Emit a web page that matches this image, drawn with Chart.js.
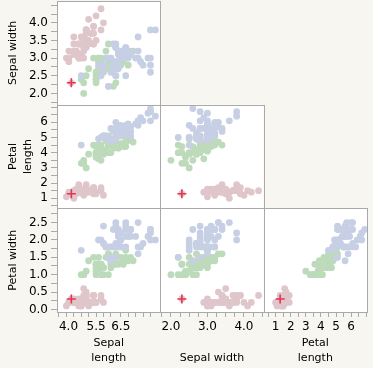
<!DOCTYPE html>
<html>
<head>
<meta charset="utf-8">
<script src="https://cdn.jsdelivr.net/npm/chart.js@4.4.1/dist/chart.umd.min.js"></script>
<style>
  html, body { margin: 0; padding: 0; background: #f7f6f1; }
  #matrix { display: block; }
</style>
</head>
<body>
<canvas id="matrix" width="373" height="368"></canvas>
<script>
// Iris measurements, one array per species and variable
const setosaSepalLength = [5.1,4.9,4.7,4.6,5.0,5.4,4.6,5.0,4.4,4.9,5.4,4.8,4.8,4.3,5.8,5.7,5.4,5.1,5.7,5.1,5.4,5.1,4.6,5.1,4.8,5.0,5.0,5.2,5.2,4.7,4.8,5.4,5.2,5.5,4.9,5.0,5.5,4.9,4.4,5.1,5.0,4.5,4.4,5.0,5.1,4.8,5.1,4.6,5.3,5.0];
const setosaSepalWidth = [3.5,3.0,3.2,3.1,3.6,3.9,3.4,3.4,2.9,3.1,3.7,3.4,3.0,3.0,4.0,4.4,3.9,3.5,3.8,3.8,3.4,3.7,3.6,3.3,3.4,3.0,3.4,3.5,3.4,3.2,3.1,3.4,4.1,4.2,3.1,3.2,3.5,3.6,3.0,3.4,3.5,2.3,3.2,3.5,3.8,3.0,3.8,3.2,3.7,3.3];
const setosaPetalLength = [1.4,1.4,1.3,1.5,1.4,1.7,1.4,1.5,1.4,1.5,1.5,1.6,1.4,1.1,1.2,1.5,1.3,1.4,1.7,1.5,1.7,1.5,1.0,1.7,1.9,1.6,1.6,1.5,1.4,1.6,1.6,1.5,1.5,1.4,1.5,1.2,1.3,1.4,1.3,1.5,1.3,1.3,1.3,1.6,1.9,1.4,1.6,1.4,1.5,1.4];
const setosaPetalWidth = [0.2,0.2,0.2,0.2,0.2,0.4,0.3,0.2,0.2,0.1,0.2,0.2,0.1,0.1,0.2,0.4,0.4,0.3,0.3,0.3,0.2,0.4,0.2,0.5,0.2,0.2,0.4,0.2,0.2,0.2,0.2,0.4,0.1,0.2,0.2,0.2,0.2,0.1,0.2,0.2,0.3,0.3,0.2,0.6,0.4,0.3,0.2,0.2,0.2,0.2];

const versicolorSepalLength = [7.0,6.4,6.9,5.5,6.5,5.7,6.3,4.9,6.6,5.2,5.0,5.9,6.0,6.1,5.6,6.7,5.6,5.8,6.2,5.6,5.9,6.1,6.3,6.1,6.4,6.6,6.8,6.7,6.0,5.7,5.5,5.5,5.8,6.0,5.4,6.0,6.7,6.3,5.6,5.5,5.5,6.1,5.8,5.0,5.6,5.7,5.7,6.2,5.1,5.7];
const versicolorSepalWidth = [3.2,3.2,3.1,2.3,2.8,2.8,3.3,2.4,2.9,2.7,2.0,3.0,2.2,2.9,2.9,3.1,3.0,2.7,2.2,2.5,3.2,2.8,2.5,2.8,2.9,3.0,2.8,3.0,2.9,2.6,2.4,2.4,2.7,2.7,3.0,3.4,3.1,2.3,3.0,2.5,2.6,3.0,2.6,2.3,2.7,3.0,2.9,2.9,2.5,2.8];
const versicolorPetalLength = [4.7,4.5,4.9,4.0,4.6,4.5,4.7,3.3,4.6,3.9,3.5,4.2,4.0,4.7,3.6,4.4,4.5,4.1,4.5,3.9,4.8,4.0,4.9,4.7,4.3,4.4,4.8,5.0,4.5,3.5,3.8,3.7,3.9,5.1,4.5,4.5,4.7,4.4,4.1,4.0,4.4,4.6,4.0,3.3,4.2,4.2,4.2,4.3,3.0,4.1];
const versicolorPetalWidth = [1.4,1.5,1.5,1.3,1.5,1.3,1.6,1.0,1.3,1.4,1.0,1.5,1.0,1.4,1.3,1.4,1.5,1.0,1.5,1.1,1.8,1.3,1.5,1.2,1.3,1.4,1.4,1.7,1.5,1.0,1.1,1.0,1.2,1.6,1.5,1.6,1.5,1.3,1.3,1.3,1.2,1.4,1.2,1.0,1.3,1.2,1.3,1.3,1.1,1.3];

const virginicaSepalLength = [6.3,5.8,7.1,6.3,6.5,7.6,4.9,7.3,6.7,7.2,6.5,6.4,6.8,5.7,5.8,6.4,6.5,7.7,7.7,6.0,6.9,5.6,7.7,6.3,6.7,7.2,6.2,6.1,6.4,7.2,7.4,7.9,6.4,6.3,6.1,7.7,6.3,6.4,6.0,6.9,6.7,6.9,5.8,6.8,6.7,6.7,6.3,6.5,6.2,5.9];
const virginicaSepalWidth = [3.3,2.7,3.0,2.9,3.0,3.0,2.5,2.9,2.5,3.6,3.2,2.7,3.0,2.5,2.8,3.2,3.0,3.8,2.6,2.2,3.2,2.8,2.8,2.7,3.3,3.2,2.8,3.0,2.8,3.0,2.8,3.8,2.8,2.8,2.6,3.0,3.4,3.1,3.0,3.1,3.1,3.1,2.7,3.2,3.3,3.0,2.5,3.0,3.4,3.0];
const virginicaPetalLength = [6.0,5.1,5.9,5.6,5.8,6.6,4.5,6.3,5.8,6.1,5.1,5.3,5.5,5.0,5.1,5.3,5.5,6.7,6.9,5.0,5.7,4.9,6.7,4.9,5.7,6.0,4.8,4.9,5.6,5.8,6.1,6.4,5.6,5.1,5.6,6.1,5.6,5.5,4.8,5.4,5.6,5.1,5.1,5.9,5.7,5.2,5.0,5.2,5.4,5.1];
const virginicaPetalWidth = [2.5,1.9,2.1,1.8,2.2,2.1,1.7,1.8,1.8,2.5,2.0,1.9,2.1,2.0,2.4,2.3,1.8,2.2,2.3,1.5,2.3,2.0,2.0,1.8,2.1,1.8,1.8,1.8,2.1,1.6,1.9,2.0,2.2,1.5,1.4,2.3,2.4,1.8,1.8,2.1,2.4,2.3,1.9,2.3,2.5,2.3,1.9,2.0,2.3,1.8];

// the selected row (setosa #42) is marked with a red cross
const highlightRow = 41;

// axis ticks and the subset that carries a label
const sepalLengthTicks = [4.0,4.3,4.6,4.9,5.2,5.5,5.8,6.1,6.5,6.8,7.1,7.4,7.7];
const sepalLengthLabels = [4.0,5.5,6.5];
const sepalWidthTicks = [1.75,2.0,2.25,2.5,2.75,3.0,3.25,3.5,3.75,4.0,4.25,4.5];
const sepalWidthLabelsX = [2.0,3.0,4.0];
const sepalWidthLabelsY = [2.0,2.5,3.0,3.5,4.0];
const petalLengthTicks = [0.5,1,1.5,2,2.5,3,3.5,4,4.5,5,5.5,6,6.5,7];
const petalLengthLabels = [1,2,3,4,5,6];
const petalWidthTicks = [0,0.25,0.5,0.75,1,1.25,1.5,1.75,2,2.25,2.5,2.75];
const petalWidthLabels = [0,0.5,1,1.5,2,2.5];

const colors = {
  setosa: "#dfc6cb",
  versicolor: "#bddabb",
  virginica: "#c7cfe5",
  highlight: "#e6334e",
  frame: "#a9a9a9",
  page: "#f7f6f1",
};

const FONT = "DejaVu Sans";

(function scatterMatrix() {
  "use strict";

  const columns = {
    sl: { setosa: setosaSepalLength, versicolor: versicolorSepalLength, virginica: virginicaSepalLength },
    sw: { setosa: setosaSepalWidth, versicolor: versicolorSepalWidth, virginica: virginicaSepalWidth },
    pl: { setosa: setosaPetalLength, versicolor: versicolorPetalLength, virginica: virginicaPetalLength },
    pw: { setosa: setosaPetalWidth, versicolor: versicolorPetalWidth, virginica: virginicaPetalWidth },
  };

  // [x axis id, y axis id, x variable, y variable]
  const panels = [
    ["xSL", "ySW", "sl", "sw"],
    ["xSL", "yPL", "sl", "pl"],
    ["xSW", "yPL", "sw", "pl"],
    ["xSL", "yPW", "sl", "pw"],
    ["xSW", "yPW", "sw", "pw"],
    ["xPL", "yPW", "pl", "pw"],
  ];

  const pairs = (xs, ys) => xs.map((x, i) => ({ x, y: ys[i] }));
  const same = (a, b) => Math.abs(a - b) < 1e-6;

  const datasets = [];
  panels.forEach(([xId, yId, xv, yv]) => {
    datasets.push({
      data: [{ x: columns[xv].setosa[highlightRow], y: columns[yv].setosa[highlightRow] }],
      xAxisID: xId,
      yAxisID: yId,
      pointStyle: "cross",
      pointRadius: 4.5,
      pointBorderWidth: 1.6,
      pointBorderColor: colors.highlight,
      pointBackgroundColor: colors.highlight,
    });
  });
  ["virginica", "versicolor", "setosa"].forEach((sp) => {
    panels.forEach(([xId, yId, xv, yv]) => {
      datasets.push({
        label: sp,
        data: pairs(columns[xv][sp], columns[yv][sp]),
        xAxisID: xId,
        yAxisID: yId,
        pointRadius: 3.4,
        pointBorderWidth: 0,
        pointBackgroundColor: colors[sp],
      });
    });
  });

  function axis(position, min, max, ticks, labels, digits, title) {
    const horizontal = position === "bottom";
    return {
      type: "linear",
      position,
      stack: horizontal ? "cols" : "rows",
      stackWeight: 1,
      min,
      max,
      bounds: "data",
      afterBuildTicks: (scale) => {
        scale.ticks = ticks.map((v) => ({ value: v }));
      },
      afterFit: (scale) => {
        if (horizontal) {
          scale.height = 56;
          scale.paddingLeft = 0;
          scale.paddingRight = 0;
        } else {
          scale.width = 57;
          scale.paddingTop = 0;
          scale.paddingBottom = 0;
        }
      },
      grid: {
        drawOnChartArea: false,
        drawTicks: true,
        tickLength: horizontal ? 5 : 6,
        tickColor: colors.frame,
        tickWidth: 1,
      },
      border: { display: false },
      ticks: {
        autoSkip: false,
        maxRotation: 0,
        minRotation: 0,
        padding: 3,
        align: horizontal ? "inner" : "center",
        color: "#000",
        font: { family: FONT, size: 12 },
        callback: (value) => (labels.some((l) => same(l, value)) ? value.toFixed(digits) : ""),
      },
      title: {
        display: true,
        text: title,
        color: "#000",
        font: { family: FONT, size: 11, lineHeight: "15px" },
        padding: horizontal ? { top: 0, bottom: 2.5 } : { top: 5.5, bottom: 0 },
      },
    };
  }

  const panelFrames = {
    id: "panelFrames",
    beforeDraw(chart) {
      const { ctx } = chart;
      ctx.save();
      ctx.fillStyle = colors.page;
      ctx.fillRect(0, 0, chart.width, chart.height);
      ctx.fillStyle = "#fff";
      panels.forEach(([xId, yId]) => {
        const xs = chart.scales[xId];
        const ys = chart.scales[yId];
        ctx.fillRect(xs.left, ys.top, xs.right - xs.left, ys.bottom - ys.top);
      });
      ctx.restore();
    },
    afterDatasetsDraw(chart) {
      const { ctx } = chart;
      ctx.save();
      ctx.strokeStyle = colors.frame;
      ctx.lineWidth = 1;
      panels.forEach(([xId, yId]) => {
        const xs = chart.scales[xId];
        const ys = chart.scales[yId];
        const l = Math.round(xs.left) + 0.5;
        const r = Math.round(xs.right) + 0.5;
        const t = Math.round(ys.top) + 0.5;
        const b = Math.round(ys.bottom) + 0.5;
        ctx.strokeRect(l, t, r - l, b - t);
      });
      ctx.restore();
    },
  };

  new Chart(document.getElementById("matrix"), {
    type: "scatter",
    data: { datasets },
    options: {
      responsive: false,
      animation: false,
      devicePixelRatio: 1,
      events: [],
      layout: { autoPadding: false, padding: { top: 1, right: 6, bottom: 0, left: 0 } },
      plugins: { legend: { display: false }, tooltip: { enabled: false } },
      scales: {
        xSL: axis("bottom", 3.92, 8.1, sepalLengthTicks, sepalLengthLabels, 1, ["Sepal", "length"]),
        xSW: axis("bottom", 1.71, 4.54, sepalWidthTicks, sepalWidthLabelsX, 1, "Sepal width"),
        xPL: axis("bottom", 0.21, 7.05, petalLengthTicks, petalLengthLabels, 0, ["Petal", "length"]),
        yPW: axis("left", -0.075, 2.91, petalWidthTicks, petalWidthLabels, 1, "Petal width"),
        yPL: axis("left", 0.34, 7.16, petalLengthTicks, petalLengthLabels, 0, ["Petal", "length"]),
        ySW: axis("left", 1.68, 4.62, sepalWidthTicks, sepalWidthLabelsY, 1, "Sepal width"),
      },
    },
    plugins: [panelFrames],
  });
})();
</script>
</body>
</html>
